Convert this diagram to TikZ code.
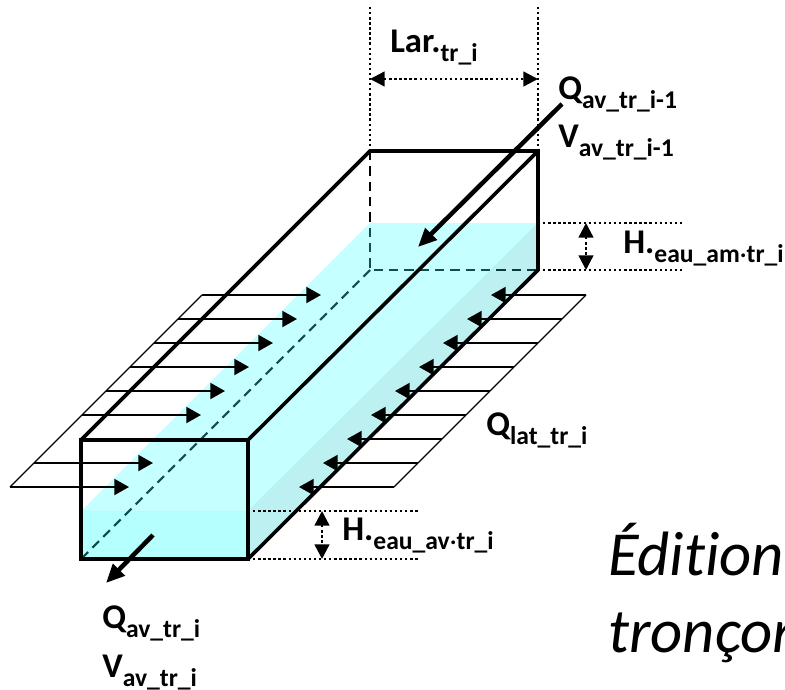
\documentclass[tikz,border=0pt]{standalone}
\usepackage{fontspec}
\setmainfont{Carlito}
\usetikzlibrary{arrows.meta,positioning}
\definecolor{hyWater}{RGB}{67,255,255}
\definecolor{hyFront}{RGB}{12,255,255}
\definecolor{hySide}{RGB}{35,205,205}
\newcommand{\hysub}[2]{#1\raisebox{-7pt}{\fontsize{19.2}{22}\selectfont #2}}
\newcommand{\hydot}{\raisebox{4pt}{.}}
\tikzset{
  hy diagram/.style={x=0.75pt,y=-0.75pt,line cap=butt,line join=miter},
  hy box/.style={draw=black,line width=2.7pt},
  hy hidden/.style={draw=black,line width=1.6pt,dash pattern=on 7pt off 4.5pt},
  hy sheet/.style={draw=black,line width=1pt},
  hy inflow/.style={-{Triangle[length=11pt,width=12pt]},draw=black,line width=1.5pt},
  hy flow/.style={-{Triangle[length=14pt,width=12pt]},draw=black,line width=3.4pt},
  hy guide/.style={draw=black,line width=1.8pt,dash pattern=on 1.8pt off 2pt},
  hy dim/.style={hy guide,{Triangle[length=11pt,width=11pt]}-{Triangle[length=11pt,width=11pt]}},
  hy label/.style={font=\fontsize{26}{30}\selectfont\bfseries,anchor=base west,inner sep=0pt},
  hy note/.style={font=\fontsize{47}{56}\selectfont\itshape,anchor=base west,inner sep=0pt}
}
\begin{document}
\begin{tikzpicture}[hy diagram]
\useasboundingbox (0,0) rectangle (785,689);
\coordinate (frontTL) at (81,440);
\coordinate (frontTR) at (248,440);
\coordinate (frontBR) at (248,559);
\coordinate (frontBL) at (81,559);
\coordinate (backTL) at (370,151);
\coordinate (backTR) at (538,151);
\coordinate (backBR) at (538,270);
\coordinate (backBL) at (370,270);
\coordinate (levelFL) at (81,511);
\coordinate (levelFR) at (248,511);
\coordinate (levelBR) at (538,223);
\coordinate (levelBL) at (370,223);
\draw[hy hidden] (backTL) -- (backBL) -- (backBR);
\draw[hy hidden] (backBL) -- (frontBL);
\fill[hyWater,fill opacity=0.3] (levelBL) -- (levelBR) -- (levelFR) -- (levelFL) -- cycle;
\fill[hyFront,fill opacity=0.3] (levelFL) -- (levelFR) -- (frontBR) -- (frontBL) -- cycle;
\fill[hySide,fill opacity=0.3] (levelBR) -- (backBR) -- (frontBR) -- (levelFR) -- cycle;
\foreach \k in {0,...,5} {
  \coordinate (leftA\k) at ({202-24*\k},{295+24*\k});
  \coordinate (leftB\k) at ({321-24*\k},{295+24*\k});
  \draw[hy inflow] (leftA\k) -- (leftB\k);
}
\foreach \k in {7,8} {
  \coordinate (leftA\k) at ({202-24*\k},{295+24*\k});
  \coordinate (leftB\k) at ({321-24*\k},{295+24*\k});
  \draw[hy inflow] (leftA\k) -- (leftB\k);
}
\foreach \k in {0,...,8} {
  \coordinate (rightA\k) at ({586-24*\k},{295+24*\k});
  \coordinate (rightB\k) at ({491-24*\k},{295+24*\k});
  \draw[hy inflow] (rightA\k) -- (rightB\k);
}
\draw[hy sheet] (leftA0) -- (leftA8);
\draw[hy sheet] (rightA0) -- (rightA8);
\draw[hy box] (frontTL) -- (backTL) -- (backTR) -- (backBR) -- (frontBR);
\draw[hy box] (frontTR) -- (backTR);
\draw[hy box] (frontTL) rectangle (frontBR);
\coordinate (larTopL) at (370,7);
\coordinate (larTopR) at (538,7);
\coordinate (larDimL) at (370,79);
\coordinate (larDimR) at (538,79);
\draw[hy guide] (larTopL) -- (backTL);
\draw[hy guide] (larTopR) -- (backTR);
\draw[hy dim] (larDimL) -- (larDimR);
\coordinate (amTop) at (682,223);
\coordinate (amBot) at (682,270);
\coordinate (amDimT) at (586,223);
\coordinate (amDimB) at (586,270);
\draw[hy guide] (levelBR) -- (amTop);
\draw[hy guide] (backBR) -- (amBot);
\draw[hy dim] (amDimT) -- (amDimB);
\coordinate (avTop) at (418,511);
\coordinate (avBot) at (418,559);
\coordinate (avDimT) at (322,511);
\coordinate (avDimB) at (322,559);
\draw[hy guide] (levelFR) -- (avTop);
\draw[hy guide] (frontBR) -- (avBot);
\draw[hy dim] (avDimT) -- (avDimB);
\coordinate (flowInA) at (562,104);
\coordinate (flowInB) at (418,247);
\coordinate (flowOutA) at (153,535);
\coordinate (flowOutB) at (106,583);
\draw[hy flow] (flowInA) -- (flowInB);
\draw[hy flow] (flowOutA) -- (flowOutB);
\node[hy label] (larText) at (390,52) {\hysub{Lar.}{tr\_i}};
\node[hy label] (qUp) at (558,99) {\hysub{Q}{av\_tr\_i-1}};
\node[hy label] (vUp) at (558,147) {\hysub{V}{av\_tr\_i-1}};
\node[hy label] (hUp) at (623,253) {\hysub{H.}{eau\_am\hydot tr\_i}};
\node[hy label] (qLat) at (486,435) {\hysub{Q}{lat\_tr\_i}};
\node[hy label] (hDown) at (342,540) {\hysub{H.}{eau\_av\hydot tr\_i}};
\node[hy label] (qDown) at (102,628) {\hysub{Q}{av\_tr\_i}};
\node[hy label] (vDown) at (102,677) {\hysub{V}{av\_tr\_i}};
\node[hy note] (noteA) at (608,575) {Édit\kern0pt ion};
\node[hy note] (noteB) at (608,652) {tronçon};
\end{tikzpicture}
\end{document}
